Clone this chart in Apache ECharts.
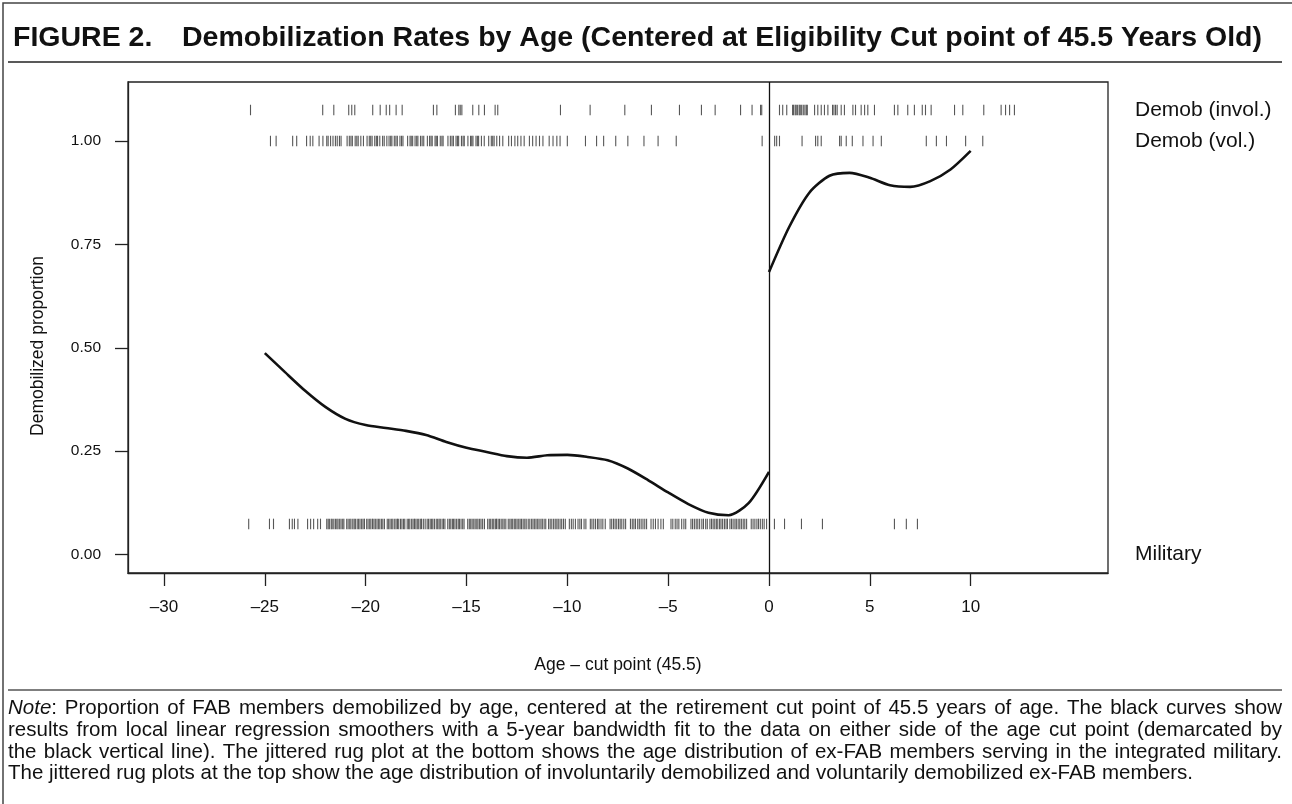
<!DOCTYPE html>
<html>
<head>
<meta charset="utf-8">
<script src="https://cdn.jsdelivr.net/npm/echarts@6/dist/echarts.min.js"></script>
<style>
  html, body { margin: 0; padding: 0; background: #fff; }
  #chart { width: 1292px; height: 804px; }
</style>
</head>
<body>
<div id="chart"></div>
<script>
// Local linear smoother fits, left and right of the cut point: [age - 45.5, proportion]
const leftCurve = [
  [-25, 0.487], [-24, 0.441], [-23, 0.396], [-22, 0.357], [-21, 0.328], [-20, 0.313],
  [-19, 0.306], [-18, 0.299], [-17, 0.289], [-16, 0.272], [-15, 0.258], [-14, 0.248],
  [-13, 0.238], [-12, 0.234], [-11, 0.240], [-10, 0.241], [-9, 0.236], [-8, 0.228],
  [-7, 0.208], [-6, 0.180], [-5, 0.150], [-4, 0.122], [-3, 0.101], [-2, 0.095],
  [-1, 0.125], [0, 0.200]
];
const rightCurve = [
  [0, 0.683], [1, 0.792], [2, 0.875], [3, 0.916], [4, 0.923], [5, 0.911],
  [6, 0.893], [7, 0.889], [8, 0.903], [9, 0.931], [10, 0.976]
];

// Jittered ages of ex-FAB members in each group
const rugInvoluntary = [
  -25.71, -22.13, -21.58, -20.84, -20.69, -20.54, -19.65, -19.28, -18.98, -18.81,
  -18.49, -18.19, -16.64, -16.47, -15.55, -15.38, -15.31, -15.23, -14.69, -14.39,
  -14.11, -13.58, -13.45, -10.34, -8.87, -7.15, -5.83, -4.44, -3.35, -2.67,
  -1.41, -0.84, -0.42, -0.36, 0.52, 0.68, 0.88, 1.17, 1.22, 1.30, 1.35, 1.42,
  1.50, 1.55, 1.62, 1.70, 1.78, 1.85, 1.90, 2.26, 2.42, 2.59, 2.75, 2.92,
  3.15, 3.22, 3.30, 3.38, 3.58, 3.74, 4.16, 4.29, 4.57, 4.74, 4.90, 5.23,
  6.22, 6.39, 6.88, 7.21, 7.60, 7.76, 8.04, 9.20, 9.61, 10.65, 11.51, 11.73,
  11.93, 12.17
];
const rugVoluntary = [
  -24.72, -24.44, -23.62, -23.42, -22.93, -22.75, -22.62, -22.31, -22.12, -21.93,
  -21.86, -21.74, -21.62, -21.5, -21.41, -21.3, -21.22, -20.92, -20.81, -20.73,
  -20.66, -20.52, -20.44, -20.37, -20.24, -20.11, -19.93, -19.82, -19.75, -19.68,
  -19.55, -19.47, -19.41, -19.3, -19.16, -19.08, -18.95, -18.84, -18.76, -18.7,
  -18.58, -18.5, -18.43, -18.3, -18.22, -18.15, -17.92, -17.8, -17.74, -17.67,
  -17.55, -17.47, -17.41, -17.28, -17.2, -17.12, -16.94, -16.83, -16.76, -16.7,
  -16.56, -16.5, -16.44, -16.3, -16.22, -16.16, -15.92, -15.8, -15.72, -15.65,
  -15.52, -15.45, -15.39, -15.25, -15.17, -15.11, -14.93, -14.8, -14.74, -14.68,
  -14.53, -14.46, -14.4, -14.26, -14.12, -13.9, -13.77, -13.7, -13.63, -13.5,
  -13.36, -13.2, -12.91, -12.77, -12.6, -12.46, -12.3, -12.14, -11.88, -11.72,
  -11.55, -11.38, -11.21, -10.9, -10.71, -10.52, -10.36, -10.0, -9.1, -8.55,
  -8.2, -7.6, -7.0, -6.2, -5.5, -4.6,
  -0.34, 0.28, 0.38, 0.52, 1.64, 2.31, 2.42, 2.59, 3.5, 3.58, 3.83, 4.13,
  4.66, 5.16, 5.57, 7.8, 8.3, 8.8, 9.75, 10.6
];
const rugMilitary = [
  -25.80, -24.77, -24.57, -23.78, -23.64, -23.53, -23.36, -22.88, -22.73, -22.58,
  -22.38, -22.24,
  -21.93, -21.86, -21.8, -21.71, -21.66, -21.58, -21.5, -21.43, -21.37, -21.29, -21.22, -21.14, -21.08,
  -20.94, -20.87, -20.79, -20.73, -20.64, -20.57, -20.51, -20.42, -20.35, -20.28, -20.2, -20.13, -20.06,
  -19.95, -19.88, -19.8, -19.74, -19.66, -19.59, -19.52, -19.44, -19.37, -19.3, -19.22, -19.15, -19.07,
  -18.93, -18.86, -18.79, -18.71, -18.65, -18.56, -18.49, -18.42, -18.36, -18.27, -18.2, -18.12, -18.06,
  -17.94, -17.87, -17.81, -17.72, -17.65, -17.58, -17.51, -17.44, -17.37, -17.29, -17.23, -17.14, -17.05,
  -16.95, -16.88, -16.8, -16.73, -16.67, -16.59, -16.5, -16.43, -16.36, -16.3, -16.21, -16.14, -16.07,
  -15.93, -15.85, -15.78, -15.7, -15.64, -15.57, -15.49, -15.41, -15.35, -15.27, -15.19, -15.12,
  -14.94, -14.86, -14.79, -14.72, -14.64, -14.57, -14.49, -14.43, -14.35, -14.28, -14.2, -14.11,
  -13.95, -13.87, -13.8, -13.72, -13.65, -13.57, -13.51, -13.43, -13.36, -13.28, -13.2, -13.13, -13.05,
  -12.93, -12.85, -12.78, -12.71, -12.63, -12.56, -12.49, -12.41, -12.34, -12.27, -12.19, -12.11, -12.04,
  -11.94, -11.86, -11.77, -11.7, -11.62, -11.55, -11.47, -11.4, -11.31, -11.24, -11.15, -11.07,
  -10.93, -10.85, -10.77, -10.68, -10.6, -10.52, -10.45, -10.36, -10.28, -10.19, -10.1,
  -9.9, -9.8, -9.71, -9.6, -9.47, -9.38, -9.3, -9.17, -9.08,
  -8.86, -8.78, -8.69, -8.6, -8.5, -8.43, -8.33, -8.24, -8.12,
  -7.88, -7.8, -7.71, -7.63, -7.55, -7.46, -7.38, -7.3, -7.2, -7.11,
  -6.87, -6.78, -6.7, -6.62, -6.51, -6.43, -6.34, -6.25, -6.16, -6.07,
  -5.85, -5.74, -5.63, -5.5, -5.36, -5.24,
  -4.86, -4.77, -4.65, -4.56, -4.47, -4.33, -4.22, -4.13,
  -3.87, -3.79, -3.7, -3.61, -3.53, -3.44, -3.33, -3.25, -3.14, -3.06,
  -2.93, -2.85, -2.77, -2.69, -2.61, -2.54, -2.45, -2.38, -2.3, -2.21, -2.13, -2.06,
  -1.94, -1.86, -1.78, -1.69, -1.62, -1.53, -1.45, -1.37, -1.28, -1.2, -1.11,
  -0.88, -0.79, -0.7, -0.6, -0.52, -0.43, -0.33, -0.24, -0.12,
  0.27, 0.77, 1.61, 2.65, 6.22, 6.81, 7.36
];

// Heights at which each rug row is drawn, and the group names on the right
const rugRows = [
  { name: 'Demob (invol.)', y: 1.075, label: 1.075, values: rugInvoluntary },
  { name: 'Demob (vol.)',   y: 1.0,   label: 1.0,   values: rugVoluntary },
  { name: 'Military',       y: 0.074, label: 0.0,   values: rugMilitary }
];

const xTicks = [-30, -25, -20, -15, -10, -5, 0, 5, 10];
const yTicks = [0, 0.25, 0.5, 0.75, 1.0];
const cutPoint = 0;

const titleLead = 'FIGURE 2.';
const titleText = 'Demobilization Rates by Age (Centered at Eligibility Cut point of 45.5 Years Old)';
const xName = 'Age \u2013 cut point (45.5)';
const yName = 'Demobilized proportion';
// Caption lines; the first word of the first line is set in italics
const noteLines = [
  'Note: Proportion of FAB members demobilized by age, centered at the retirement cut point of 45.5 years of age. The black curves show',
  'results from local linear regression smoothers with a 5-year bandwidth fit to the data on either side of the age cut point (demarcated by',
  'the black vertical line). The jittered rug plot at the bottom shows the age distribution of ex-FAB members serving in the integrated military.',
  'The jittered rug plots at the top show the age distribution of involuntarily demobilized and voluntarily demobilized ex-FAB members.'
];

const FONT = '"Liberation Sans", Arial, Helvetica, sans-serif';
const NOTE_SIZE = 20.5;
const NOTE_LEFT = 8, NOTE_RIGHT = 1282, NOTE_TOP = 698, NOTE_STEP = 21.7;

const chart = echarts.init(document.getElementById('chart'), null, { renderer: 'canvas' });
const dash = v => (v < 0 ? '\u2013' + Math.abs(v) : String(v));

// Justified caption: every line but the last is spread to the full text width
const measureCtx = document.createElement('canvas').getContext('2d');
function textWidth(str, italic) {
  measureCtx.font = (italic ? 'italic ' : '') + NOTE_SIZE + 'px ' + FONT;
  return measureCtx.measureText(str).width;
}
function noteWord(word, x, y) {
  if (word === 'Note:') {
    return {
      type: 'text', x: x, y: y, silent: true,
      style: {
        text: '{i|Note}{n|:}', fontFamily: FONT, fontSize: NOTE_SIZE, fill: '#111',
        rich: {
          i: { fontFamily: FONT, fontSize: NOTE_SIZE, fontStyle: 'italic', fill: '#111' },
          n: { fontFamily: FONT, fontSize: NOTE_SIZE, fill: '#111' }
        }
      }
    };
  }
  return { type: 'text', x: x, y: y, silent: true, style: { text: word, fontFamily: FONT, fontSize: NOTE_SIZE, fill: '#111' } };
}
const noteGraphics = [];
noteLines.forEach((line, i) => {
  const y = NOTE_TOP + i * NOTE_STEP;
  const words = line.split(' ');
  const widths = words.map(w => (w === 'Note:' ? textWidth('Note', true) + textWidth(':') : textWidth(w)));
  const total = widths.reduce((a, b) => a + b, 0);
  const last = i === noteLines.length - 1;
  const gap = last ? textWidth(' ') : (NOTE_RIGHT - NOTE_LEFT - total) / (words.length - 1);
  let x = NOTE_LEFT;
  words.forEach((w, j) => {
    noteGraphics.push(noteWord(w, x, y));
    x += widths[j] + gap;
  });
});

const rugSeries = rugRows.map(r => ({
  type: 'scatter',
  name: r.name,
  symbol: 'rect',
  symbolSize: [1.1, 10.5],
  silent: true,
  itemStyle: { color: '#3a3a3a', opacity: 0.85 },
  data: r.values.map(v => [v, r.y]),
  z: 2
}));

const option = {
  animation: false,
  backgroundColor: '#fff',
  grid: {
    left: 128, right: 184, top: 82, bottom: 231,
    show: true, borderColor: '#222', borderWidth: 1.3, backgroundColor: 'transparent'
  },
  xAxis: {
    type: 'value', min: -31.785, max: 16.81,
    name: xName, nameLocation: 'middle', nameGap: 83,
    nameTextStyle: { fontFamily: FONT, fontSize: 17.5, color: '#111' },
    axisLine: { show: true, onZero: false, lineStyle: { color: '#222', width: 1.3 } },
    axisTick: { show: true, inside: false, length: 13, customValues: xTicks, lineStyle: { color: '#222', width: 1.3 } },
    axisLabel: { customValues: xTicks, formatter: dash, margin: 26, fontFamily: FONT, fontSize: 17, color: '#111' },
    splitLine: { show: false }
  },
  yAxis: [{
    type: 'value', min: -0.0447, max: 1.1427,
    axisLine: { show: true, onZero: false, lineStyle: { color: '#222', width: 1.3 } },
    axisTick: { show: true, length: 13, customValues: yTicks, lineStyle: { color: '#222', width: 1.3 } },
    axisLabel: { customValues: yTicks, formatter: v => v.toFixed(2), margin: 27, fontFamily: FONT, fontSize: 15.5, color: '#111' },
    splitLine: { show: false }
  }, {
    type: 'value', min: -0.0447, max: 1.1427, position: 'right',
    axisLine: { show: false, onZero: false }, axisTick: { show: false }, splitLine: { show: false },
    axisLabel: {
      customValues: rugRows.map(r => r.label),
      formatter: v => { const r = rugRows.find(q => Math.abs(q.label - v) < 1e-6); return r ? r.name : ''; },
      margin: 27, fontFamily: FONT, fontSize: 21, color: '#111'
    }
  }],
  series: [
    {
      type: 'line', name: 'below cut point', data: leftCurve, showSymbol: false, smooth: 0.25,
      lineStyle: { color: '#111', width: 2.6 }, z: 3,
      markLine: {
        silent: true, symbol: 'none', label: { show: false },
        lineStyle: { color: '#111', width: 1.3, type: 'solid' },
        data: [{ xAxis: cutPoint }]
      }
    },
    {
      type: 'line', name: 'above cut point', data: rightCurve, showSymbol: false, smooth: 0.25,
      lineStyle: { color: '#111', width: 2.6 }, z: 3
    },
    ...rugSeries
  ],
  graphic: [
    { type: 'rect', shape: { x: 3, y: 3, width: 1300, height: 820 }, style: { fill: 'none', stroke: '#444', lineWidth: 1.5 }, silent: true },
    { type: 'text', left: 13, top: 24, style: { text: titleLead, fontFamily: FONT, fontSize: 28.5, fontWeight: 'bold', fill: '#111' } },
    { type: 'text', left: 182, top: 24, style: { text: titleText, fontFamily: FONT, fontSize: 28.5, fontWeight: 'bold', fill: '#111' } },
    { type: 'line', shape: { x1: 8, y1: 62, x2: 1282, y2: 62 }, style: { stroke: '#222', lineWidth: 1.5 } },
    { type: 'line', shape: { x1: 8, y1: 690, x2: 1282, y2: 690 }, style: { stroke: '#555', lineWidth: 1.5 } },
    {
      type: 'text', x: 38, y: 346, rotation: Math.PI / 2, silent: true,
      style: { text: yName, fontFamily: FONT, fontSize: 17.5, fill: '#111', align: 'center', verticalAlign: 'middle' }
    },
    ...noteGraphics
  ]
};

chart.setOption(option);
</script>
</body>
</html>
